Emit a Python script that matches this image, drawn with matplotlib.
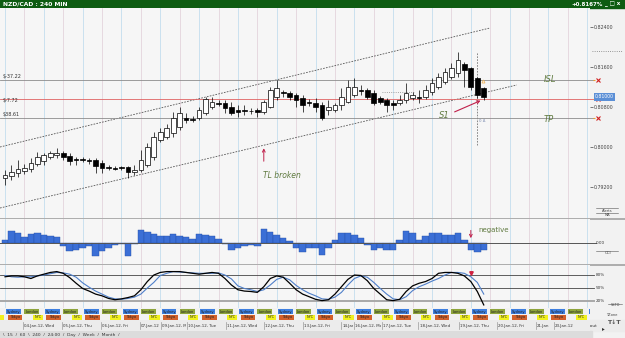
import matplotlib
matplotlib.use('Agg')
import matplotlib.pyplot as plt
from matplotlib.patches import Rectangle
from matplotlib.transforms import Bbox, TransformedBbox
from matplotlib import font_manager
import numpy as np

# NZD/CAD 240 min candles
opens = [0.7938, 0.7942, 0.7948, 0.7952, 0.7956, 0.7966, 0.7972, 0.7980, 0.7984, 0.7988,
         0.7982, 0.7976, 0.7976, 0.7974, 0.7974, 0.7968, 0.7960, 0.7958, 0.7959, 0.7960,
         0.7950, 0.7954, 0.7964, 0.7980, 0.8014, 0.8020, 0.8028, 0.8040, 0.8058, 0.8056,
         0.8058, 0.8068, 0.8080, 0.8088, 0.8088, 0.8080, 0.8074, 0.8074, 0.8072, 0.8074,
         0.8070, 0.8080, 0.8100, 0.8110, 0.8108, 0.8104, 0.8098, 0.8090, 0.8088, 0.8084,
         0.8074, 0.8074, 0.8084, 0.8090, 0.8104, 0.8114, 0.8114, 0.8108, 0.8098, 0.8094,
         0.8088, 0.8088, 0.8094, 0.8098, 0.8100, 0.8100, 0.8110, 0.8120, 0.8130, 0.8140,
         0.8148, 0.8166, 0.8158, 0.8138, 0.8118]
highs = [0.7954, 0.7964, 0.7974, 0.7966, 0.7978, 0.7990, 0.7988, 0.7992, 0.7998, 0.7992,
         0.7988, 0.7980, 0.7980, 0.7978, 0.7978, 0.7974, 0.7964, 0.7962, 0.7962, 0.7962,
         0.7964, 0.7994, 0.8008, 0.8030, 0.8038, 0.8046, 0.8070, 0.8080, 0.8068, 0.8062,
         0.8080, 0.8100, 0.8100, 0.8094, 0.8094, 0.8090, 0.8084, 0.8084, 0.8078, 0.8078,
         0.8094, 0.8120, 0.8134, 0.8114, 0.8112, 0.8108, 0.8104, 0.8096, 0.8098, 0.8090,
         0.8094, 0.8088, 0.8118, 0.8134, 0.8138, 0.8124, 0.8118, 0.8114, 0.8102, 0.8098,
         0.8094, 0.8104, 0.8128, 0.8110, 0.8114, 0.8124, 0.8138, 0.8148, 0.8158, 0.8168,
         0.8190, 0.8170, 0.8160, 0.8140, 0.8120]
lows = [0.7924, 0.7934, 0.7940, 0.7946, 0.7950, 0.7962, 0.7964, 0.7976, 0.7978, 0.7974,
        0.7964, 0.7964, 0.7970, 0.7966, 0.7948, 0.7948, 0.7954, 0.7954, 0.7954, 0.7938,
        0.7944, 0.7950, 0.7960, 0.7974, 0.8010, 0.8016, 0.8020, 0.8034, 0.8048, 0.8050,
        0.8054, 0.8064, 0.8076, 0.8082, 0.8068, 0.8064, 0.8060, 0.8064, 0.8066, 0.8060,
        0.8066, 0.8078, 0.8094, 0.8100, 0.8094, 0.8080, 0.8070, 0.8082, 0.8070, 0.8054,
        0.8064, 0.8070, 0.8074, 0.8088, 0.8100, 0.8104, 0.8096, 0.8084, 0.8086, 0.8070,
        0.8074, 0.8084, 0.8088, 0.8094, 0.8088, 0.8096, 0.8104, 0.8116, 0.8126, 0.8136,
        0.8140, 0.8120, 0.8114, 0.8098, 0.8094]
closes = [0.7944, 0.7950, 0.7956, 0.7958, 0.7968, 0.7980, 0.7984, 0.7988, 0.7988, 0.7980,
          0.7972, 0.7974, 0.7975, 0.7972, 0.7962, 0.7958, 0.7959, 0.7957, 0.7958, 0.7950,
          0.7954, 0.7974, 0.8000, 0.8020, 0.8030, 0.8038, 0.8058, 0.8068, 0.8054, 0.8055,
          0.8074, 0.8096, 0.8090, 0.8087, 0.8078, 0.8068, 0.8070, 0.8073, 0.8071, 0.8070,
          0.8090, 0.8114, 0.8118, 0.8108, 0.8100, 0.8094, 0.8084, 0.8088, 0.8080, 0.8058,
          0.8080, 0.8084, 0.8100, 0.8120, 0.8120, 0.8113, 0.8100, 0.8088, 0.8090, 0.8084,
          0.8084, 0.8094, 0.8108, 0.8104, 0.8099, 0.8114, 0.8128, 0.8140, 0.8150, 0.8158,
          0.8174, 0.8154, 0.8120, 0.8104, 0.8100]

cci = [65, 228, 195, 117, 182, 195, 163, 130, 117, -65, -163, -130, -98, -65, -260,
       -163, -98, -33, -13, -247, -13, 260, 208, 182, 143, 143, 182, 143, 117, 78,
       182, 163, 130, 78, -13, -143, -98, -52, -33, -52, 273, 208, 163, 98, 33,
       -98, -182, -98, -98, -228, -98, 52, 195, 195, 150, 98, -33, -143, -98, -143,
       -143, 52, 228, 195, 52, 143, 195, 195, 163, 163, 195, 52, -143, -182, -129.78]

stoch_k = [76, 78, 78, 76, 72, 78, 82, 86, 88, 84, 74, 61, 49, 43, 36, 32, 26, 23, 25, 28,
           32, 46, 65, 80, 86, 88, 88, 88, 86, 84, 82, 84, 86, 84, 72, 57, 46, 43, 42, 40,
           53, 72, 78, 75, 61, 46, 36, 30, 24, 21, 23, 36, 53, 70, 80, 79, 67, 49, 36, 23,
           21, 24, 42, 55, 61, 65, 72, 84, 86, 86, 84, 78, 65, 42, 11]
stoch_d = [79, 76, 75, 76, 76, 78, 80, 83, 86, 85, 82, 75, 62, 52, 43, 36, 29, 25, 24, 26,
           29, 36, 50, 63, 79, 84, 88, 87, 86, 85, 84, 84, 84, 85, 80, 71, 55, 49, 46, 42,
           46, 57, 70, 75, 69, 56, 46, 38, 32, 25, 24, 29, 40, 57, 72, 78, 75, 63, 49, 36,
           25, 23, 30, 44, 53, 59, 66, 72, 80, 86, 86, 84, 76, 63, 36]

isl_level = 0.8134
entry_level = 0.8096
tp_level = 0.8058
upper_tl_x = [-0.77, 74.96]
upper_tl_y = [0.8000, 0.8238]
lower_tl_x = [-0.77, 79.1]
lower_tl_y = [0.7878, 0.8124]

price_ticks = [0.792, 0.800, 0.808, 0.816, 0.824]

day_labels = ['04.Jan.12, Wed', '05.Jan.12, Thu', '06.Jan.12, Fri', '07.Jan.12',
              '09.Jan.12, Mon', '10.Jan.12, Tue', '11.Jan.12, Wed', '12.Jan.12, Thu',
              '13.Jan.12, Fri', '14.Jan', '16.Jan.12, Mon', '17.Jan.12, Tue',
              '18.Jan.12, Wed', '19.Jan.12, Thu', '20.Jan.12, Fri', '21.Jan', '23.Jan.12']
day_pos = [3, 9, 15, 21, 24.3, 28.3, 34.3, 40.2, 46.2, 52.2, 54.1, 58.4, 64.1, 70.3,
           76.2, 82.2, 85]

sessions = ['Sydney', 'Tokyo', 'London', 'NYC']
session_colors = ['#3d7fe0', '#d2602a', '#8ea43c', '#f0f01e']

W, H = 625, 338
XL = (-0.773, 90.42)

installed = {f.name for f in font_manager.fontManager.ttflist}
narrow = 'Liberation Sans Narrow' if 'Liberation Sans Narrow' in installed else 'DejaVu Sans'


def rect(x0, y0, x1, y1):
    return [x0 / W, 1 - y1 / H, (x1 - x0) / W, (y1 - y0) / H]


def vgrid(a):
    for g in np.arange(0, 91, 3):
        col = '#c3ddee' if g % 6 == 0 else '#e4d4dc'
        a.axvline(g, color=col, lw=0.6, zorder=0)


def clean(a):
    a.set_xlim(*XL)
    a.set_xticks([])
    a.set_yticks([])
    for s in a.spines.values():
        s.set_visible(False)


def chain(parts, x, y, size):
    # write coloured pieces one after another on one line
    t = bg.text(x, y, parts[0][0], color=parts[0][1], fontsize=size, va='center')
    for txt, col in parts[1:]:
        t = bg.annotate(txt, xy=(1, 0.5), xycoords=t, xytext=(1.2, 0),
                        textcoords='offset points', color=col, fontsize=size, va='center')


fig = plt.figure(figsize=(6.25, 3.38), dpi=100, facecolor='#f2f2f2')
bg = fig.add_axes([0, 0, 1, 1])
bg.set_xlim(0, W)
bg.set_ylim(H, 0)
bg.axis('off')

# title bar
bg.add_patch(Rectangle((0, 0), W, 8, color='#0e5c12'))
bg.text(3, 4.3, 'NZD/CAD : 240 MIN', color='white', fontsize=4.3, fontweight='bold', va='center')
bg.text(603, 4.3, '+0.8167%', color='white', fontsize=4, fontweight='bold', va='center', ha='right')
bg.text(605, 4.3, '_ \u25a1 x', color='white', fontsize=4, fontweight='bold', va='center')

# ---- main price panel
ax = fig.add_axes(rect(0, 8, 590, 218))
ax.set_facecolor('#f6f6f6')
clean(ax)
ax.set_ylim(0.7858, 0.8278)
vgrid(ax)

idx = np.arange(len(opens))
o = np.array(opens)
h = np.array(highs)
l = np.array(lows)
c = np.array(closes)
up = c >= o
body = np.maximum(np.abs(c - o), 0.00012)
bot = np.minimum(o, c)
ax.vlines(idx, l, h, color='black', lw=0.5, zorder=2)
ax.bar(idx[up], body[up], bottom=bot[up], width=0.72, facecolor='white',
       edgecolor='black', lw=0.5, zorder=3)
ax.bar(idx[~up], body[~up], bottom=bot[~up], width=0.72, color='black',
       edgecolor='black', lw=0.5, zorder=3)

# trend channel
ax.plot(upper_tl_x, upper_tl_y, color='#555555', lw=0.6, ls=(0, (2, 1.5)), zorder=1)
ax.plot(lower_tl_x, lower_tl_y, color='#555555', lw=0.6, ls=(0, (2, 1.5)), zorder=1)
ax.plot([58.3, 63.4], [0.8110, 0.8110], color='#8a8a8a', lw=0.6, ls=':', zorder=1)
ax.plot([72.95, 72.95], [0.8004, 0.8190], color='#777777', lw=0.6, ls=(0, (2, 1.5)), zorder=1)

# order levels
for lvl, col in [(isl_level, '#8c8c8c'), (entry_level, '#e06262'), (tp_level, '#8c8c8c')]:
    ax.plot([XL[0], 91.0], [lvl, lvl], color=col, lw=0.6, clip_on=False, zorder=1)
    ax.plot([91.0], [lvl], marker='_', color='#f0a030', ms=2, mew=0.8, clip_on=False)
    ax.plot([91.7], [lvl], marker='x', color='#d02020', ms=2.2, mew=0.8, clip_on=False)

ytr = ax.get_yaxis_transform()
ax.text(0.005, isl_level + 0.0002, '$-37.22', transform=ytr, fontsize=3.5, color='#333', va='bottom')
ax.text(0.005, entry_level - 0.0003, '$-7.72', transform=ytr, fontsize=3.5, color='#333', va='center')
ax.text(0.005, tp_level + 0.0002, '$38.61', transform=ytr, fontsize=3.5, color='#333', va='bottom')

note = dict(fontsize=6, color='#607a40', style='italic')
ax.text(83.2, isl_level, 'ISL', va='center', **note)
ax.text(83.2, tp_level - 0.0004, 'TP', va='center', **note)
ax.text(67.0, 0.8064, 'S1', va='center', **note)
ax.text(39.9, 0.7942, 'TL broken', va='center', fontsize=5.5, color='#607a40', style='italic')
ax.annotate('', xy=(40.0, 0.8003), xytext=(40.0, 0.7966),
            arrowprops=dict(arrowstyle='->', color='#c0204a', lw=0.7, mutation_scale=5))
ax.annotate('', xy=(73.9, 0.8095), xytext=(69.1, 0.8068),
            arrowprops=dict(arrowstyle='->', color='#c0204a', lw=0.8, mutation_scale=5))
ax.plot([73.9], [0.8132], marker='^', mfc='none', mec='#f0b050', ms=2.2, mew=0.5)
ax.text(73.3, 0.8052, '0 \u0394', fontsize=2.8, color='#7a8ab0', va='center')

ax.yaxis.tick_right()
ax.set_yticks(price_ticks)
ax.set_yticklabels([f'{p:.5f}' for p in price_ticks])
ax.tick_params(axis='y', labelsize=3.4, length=2, pad=1, colors='#444444', width=0.5)
ax.text(1.008, closes[-1], f'{closes[-1]:.5f}', transform=ytr, fontsize=3.3, color='white',
        va='center', bbox=dict(boxstyle='square,pad=0.25', fc='#5b8fd6', ec='none'), clip_on=False)

bg.text(4, 15.5, 'Moving Averages:', color='#a83232', fontsize=4.3, fontweight='bold',
        style='italic', va='center')
bg.plot([592, 622], [51, 51], ls=':', color='#777777', lw=0.6)
bg.text(607, 210.5, 'Alerts', fontsize=2.6, color='#444', ha='center', va='center')
bg.text(607, 215, 'MA', fontsize=2.6, color='#444', ha='center', va='center')
bg.plot([596, 618], [208, 208], color='#555', lw=0.4)
bg.plot([596, 618], [212.8, 212.8], color='#555', lw=0.4)

# ---- CCI panel
ax2 = fig.add_axes(rect(0, 219, 590, 264))
ax2.set_facecolor('#f6f6f6')
clean(ax2)
ax2.set_ylim(-410, 468)
vgrid(ax2)
ax2.bar(idx, cci, width=1.0, color='#3b6fd6', edgecolor='#2450a8', lw=0.3, zorder=2)
ax2.plot([XL[0], 91.3], [0, 0], color='#555555', lw=0.7, clip_on=False, zorder=3)
ax2.text(1.01, 0, '0.00', transform=ax2.get_yaxis_transform(), fontsize=3, color='#333',
         va='center', clip_on=False)
ax2.annotate('', xy=(72.0, 40), xytext=(72.0, 300),
             arrowprops=dict(arrowstyle='->', color='#c0204a', lw=0.7, mutation_scale=5))
ax2.text(73.1, 250, 'negative', fontsize=5, color='#607a40', va='center')
chain([('CCI: [ 6 ] -129.78', '#4a5aa0'), ('|\u21910 Signals', '#c040a0')], 3, 223.5, 3.3)
bg.text(608, 253.5, 'CCI', fontsize=2.8, color='#444', ha='center', va='center')
bg.plot([596, 618], [251, 251], color='#555', lw=0.4)

# ---- stochastic panel
ax3 = fig.add_axes(rect(0, 265, 590, 308))
ax3.set_facecolor('#f6f6f6')
clean(ax3)
ax3.set_ylim(3.9, 103.2)
vgrid(ax3)
for lvl, col, lw in [(80, '#444444', 0.6), (50, '#444444', 0.6), (20, '#a8a8a8', 1.4)]:
    ax3.plot([XL[0], 91.0], [lvl, lvl], color=col, lw=lw, clip_on=False, zorder=1)
    ax3.text(1.01, lvl, f'{lvl}%', transform=ax3.get_yaxis_transform(), fontsize=3,
             color='#333', va='center', clip_on=False)
ax3.plot(idx, stoch_d, color='#4f7fc9', lw=0.8, zorder=3)
ax3.plot(idx, stoch_k, color='black', lw=0.9, zorder=4)
ax3.plot([72.0], [85], marker='v', color='#d02040', ms=2.5, zorder=5)
chain([('SSTO: [ 8 ] %K: [ 3 ]', '#222222'), ('%D: [ 3 ]', '#4f7fc9'),
       ('33.24%', '#222222'), ('55.83%', '#4f7fc9')], 4, 268.5, 3.2)
bg.text(615, 305.5, 'SSTO', fontsize=2.5, color='#444', ha='center', va='center')
bg.plot([608, 622], [303.5, 303.5], color='#555', lw=0.4)

# panel separators
for yy in [218.7, 264.5]:
    bg.plot([0, 625], [yy, yy], color='#9a9a9a', lw=1.1)

# ---- trading sessions
ax4 = fig.add_axes(rect(0, 309, 590, 320))
ax4.set_facecolor('#f2f2f2')
clean(ax4)
ax4.set_ylim(2, 0)
sess_row = [0, 1, 0, 1]
sess_off = [0.2, 0.4, 3.0, 4.3]
sess_w = [2.3, 2.3, 2.3, 1.6]
for k in range(-1, 16):
    for name, col, row, off, wd in zip(sessions, session_colors, sess_row, sess_off, sess_w):
        x0 = 6 * k + off
        ax4.add_patch(Rectangle((x0, row + 0.05), wd, 0.9, color=col, lw=0))
        if x0 > XL[0] and x0 + wd < XL[1]:
            ax4.text(x0 + wd / 2, row + 0.5, name, fontsize=2.6, color='#222',
                     ha='center', va='center')

# ---- date strip
bg.add_patch(Rectangle((0, 320), W, 11, color='#ececec'))
ax5 = fig.add_axes(rect(0, 320, 590, 331))
ax5.set_facecolor('#ececec')
clean(ax5)
ax5.set_ylim(0, 1)
next_pos = day_pos[1:] + [XL[1]]
for lab, p, q in zip(day_labels, day_pos, next_pos):
    ax5.plot([p - 0.2, p - 0.2], [0.15, 0.85], color='#999999', lw=0.5)
    t = ax5.text(p, 0.45, lab, fontsize=2.9, family=narrow, color='#333', va='center')
    # labels are cut where the next day begins, like the platform does
    t.set_clip_box(TransformedBbox(Bbox([[p - 0.2, 0], [q - 0.3, 1]]), ax5.transData))
    t.set_clip_on(True)
bg.text(2, 326, '\u25c2 Zoom in', fontsize=3.1, family=narrow, color='#333', va='center')
bg.text(576, 326, 'Zoom out', fontsize=3.1, family=narrow, color='#333', va='center')
bg.text(602, 328.5, '\u25b8', fontsize=4, color='#333', va='center')

# ---- timeframe tabs
bg.add_patch(Rectangle((0, 331), 592, 7, color='#dcdcdc'))
bg.text(3, 334.6, '\\  15  /  60  \\  240  /  24:00  /  Day  /  Week  /  Month  /',
        fontsize=3.2, color='#333', va='center')
bg.text(612, 315.5, 'TZone', fontsize=2.6, color='#444', ha='center', va='center')
bg.text(614, 322, 'T\u2193T', fontsize=4.5, color='#555', fontweight='bold', ha='center', va='center')

fig.savefig('out.png', dpi=100, facecolor=fig.get_facecolor())
